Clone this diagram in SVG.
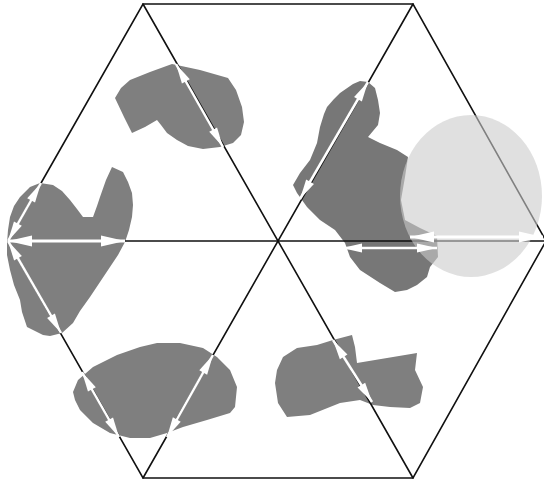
<svg xmlns="http://www.w3.org/2000/svg" width="544" height="483" viewBox="0 0 544 483">
<defs>
<style>
.edge{stroke:#111;stroke-width:1.6;fill:none;stroke-linecap:round}
.blob{fill:#7f7f7f;stroke:none;stroke-linejoin:round}
.arr{stroke:#fff;stroke-width:2.5;fill:none;marker-start:url(#ah);marker-end:url(#ah)}
.arrL{stroke:#fff;stroke-width:3;fill:none;marker-start:url(#ahL);marker-end:url(#ahL)}
</style>
<marker id="ah" viewBox="0 0 20 10" refX="20" refY="5" markerWidth="22" markerHeight="10" markerUnits="userSpaceOnUse" orient="auto-start-reverse">
<path d="M0,0.5 L20,5 L0,9.5 Z" fill="#fff"/>
</marker>
<marker id="ahL" viewBox="0 0 20 10" refX="20" refY="5" markerWidth="28" markerHeight="12" markerUnits="userSpaceOnUse" orient="auto-start-reverse">
<path d="M0,0.5 L20,5 L0,9.5 Z" fill="#fff"/>
</marker>
</defs>
<rect width="544" height="483" fill="#fff"/>
<g id="blobs">
<polygon id="blob-top" class="blob" points="172,64 200,70 228,78 236,90 242,107 244,122 241,135 233,143 220,147 203,149 188,146 177,140 167,133 161,125 157,120 145,127 132,133 124,117 115,98 121,88 130,80 150,72"/>
<polygon id="blob-left" class="blob" points="40,183 53,185 62,191 70,200 77,209 83,217 93,217 97,206 100,197 106,180 112,167 123,172 128,182 132,193 133,205 132,217 129,230 125,242 118,255 110,267 100,282 90,297 80,311 73,323 62,333 50,336 43,335 27,327 22,312 20,300 14,285 10,270 7,255 7,243 8,230 10,217 14,206 20,197 30,187"/>
<polygon id="blob-topright" class="blob" style="fill:#777" points="368,82 375,88 378,100 380,113 378,125 368,137 380,143 397,150 408,157 405,177 401,200 405,220 420,228 437,236 438,257 430,267 427,277 417,285 407,290 395,292 380,283 360,270 350,257 345,243 335,230 320,220 307,207 297,193 293,185 300,173 310,160 317,143 320,127 324,114 327,107 334,99 340,93 353,84 360,81"/>
<polygon id="blob-bottomleft" class="blob" points="73,392 78,380 93,367 117,355 140,347 157,343 180,343 203,348 217,357 230,370 237,387 235,407 230,413 207,420 183,427 167,433 150,438 130,438 110,433 93,423 80,410 75,400"/>
<polygon id="blob-bottommid" class="blob" points="333,340 352,335 355,347 357,363 417,353 415,370 423,387 420,403 410,408 390,407 373,405 360,400 340,403 325,409 310,415 287,417 278,403 275,383 277,370 283,357 297,348 317,345"/>
</g>
<g id="hexagon">
<polygon class="edge" points="8,241 143,4 413,4 546,241 413,478 143,478"/>
<line class="edge" x1="8" y1="241" x2="546" y2="241"/>
<line class="edge" x1="143" y1="4" x2="413" y2="478"/>
<line class="edge" x1="413" y1="4" x2="143" y2="478"/>
</g>
<ellipse id="circle" cx="471" cy="196" rx="71" ry="81" fill="#cbcbcb" fill-opacity="0.6"/>
<g id="connectors">
<line class="arr" x1="176" y1="64" x2="223" y2="147"/>
<line class="arr" x1="8" y1="241" x2="41" y2="183"/>
<line class="arrL" x1="8" y1="241" x2="125" y2="241"/>
<line class="arr" x1="8" y1="241" x2="61" y2="333"/>
<line class="arr" x1="368" y1="82" x2="300" y2="199"/>
<line class="arr" x1="342" y1="248" x2="437" y2="248"/>
<line class="arrL" x1="410" y1="237" x2="543" y2="237"/>
<line class="arr" x1="82" y1="372" x2="119" y2="437"/>
<line class="arr" x1="213" y1="355" x2="167" y2="437"/>
<line class="arr" x1="333" y1="340" x2="372" y2="402"/>
</g>
</svg>
